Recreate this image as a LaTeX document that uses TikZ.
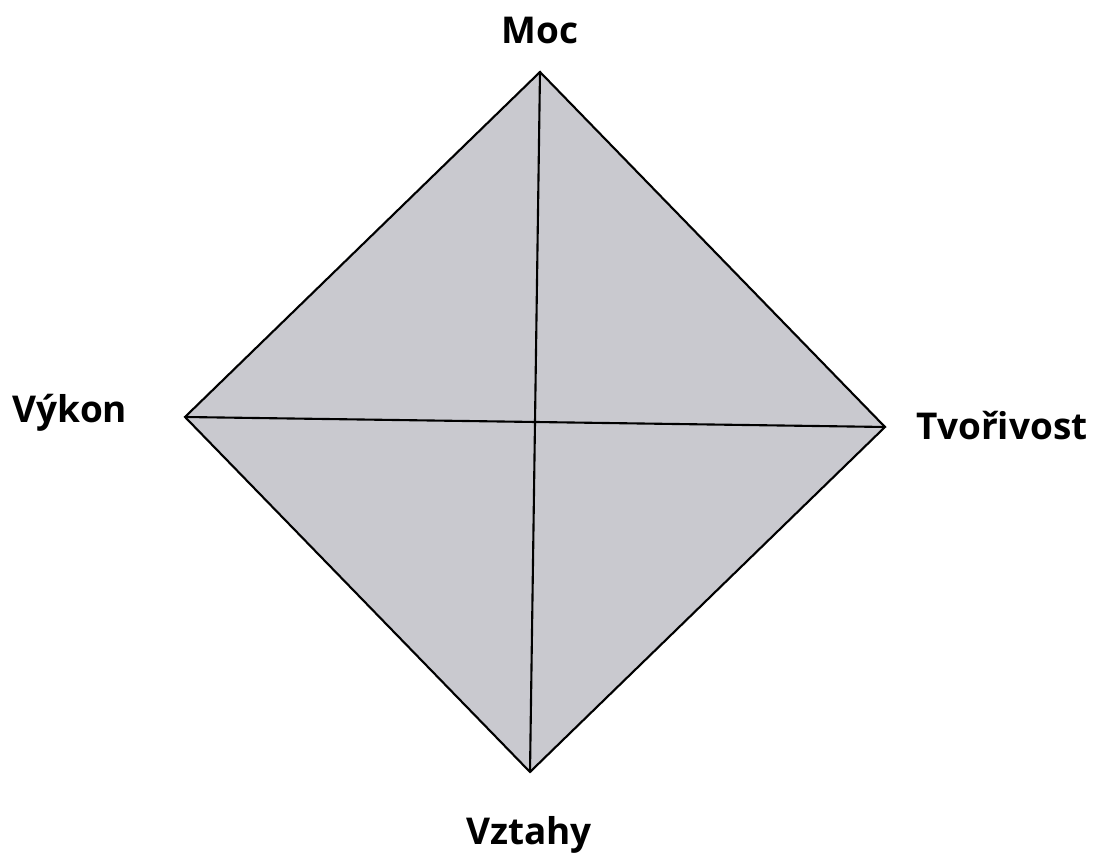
\documentclass[tikz,border=0pt]{standalone}
\usepackage{fontspec}
\setmainfont{Open Sans}
\definecolor{plocha}{RGB}{201,201,207}
\tikzset{
  popis/.style={font=\fontsize{10.5}{12}\selectfont\bfseries, inner sep=0pt},
  hrana/.style={draw=black, line width=0.6pt, line join=miter}
}
\begin{document}
\begin{tikzpicture}[x=0.01cm, y=-0.01cm]
    \useasboundingbox (0,0) rectangle (1100,862);

    % vrcholy
    \coordinate (Horni) at (540,72);
    \coordinate (Levy) at (185,417);
    \coordinate (Pravy) at (885,427);
    \coordinate (Dolni) at (530,772);

    \filldraw[fill=plocha, hrana] (Horni) -- (Pravy) -- (Dolni) -- (Levy) -- cycle;
    \draw[hrana] (Horni) -- (Dolni);
    \draw[hrana] (Levy) -- (Pravy);

    % popisky
    \node[popis] (moc) at (540,31) {Moc};
    \node[popis] (vykon) at (70,413) {Výkon};
    \node[popis] (tvorivost) at (1002,426) {Tvořivost};
    \node[popis] (vztahy) at (529,835) {Vztahy};
\end{tikzpicture}
\end{document}
